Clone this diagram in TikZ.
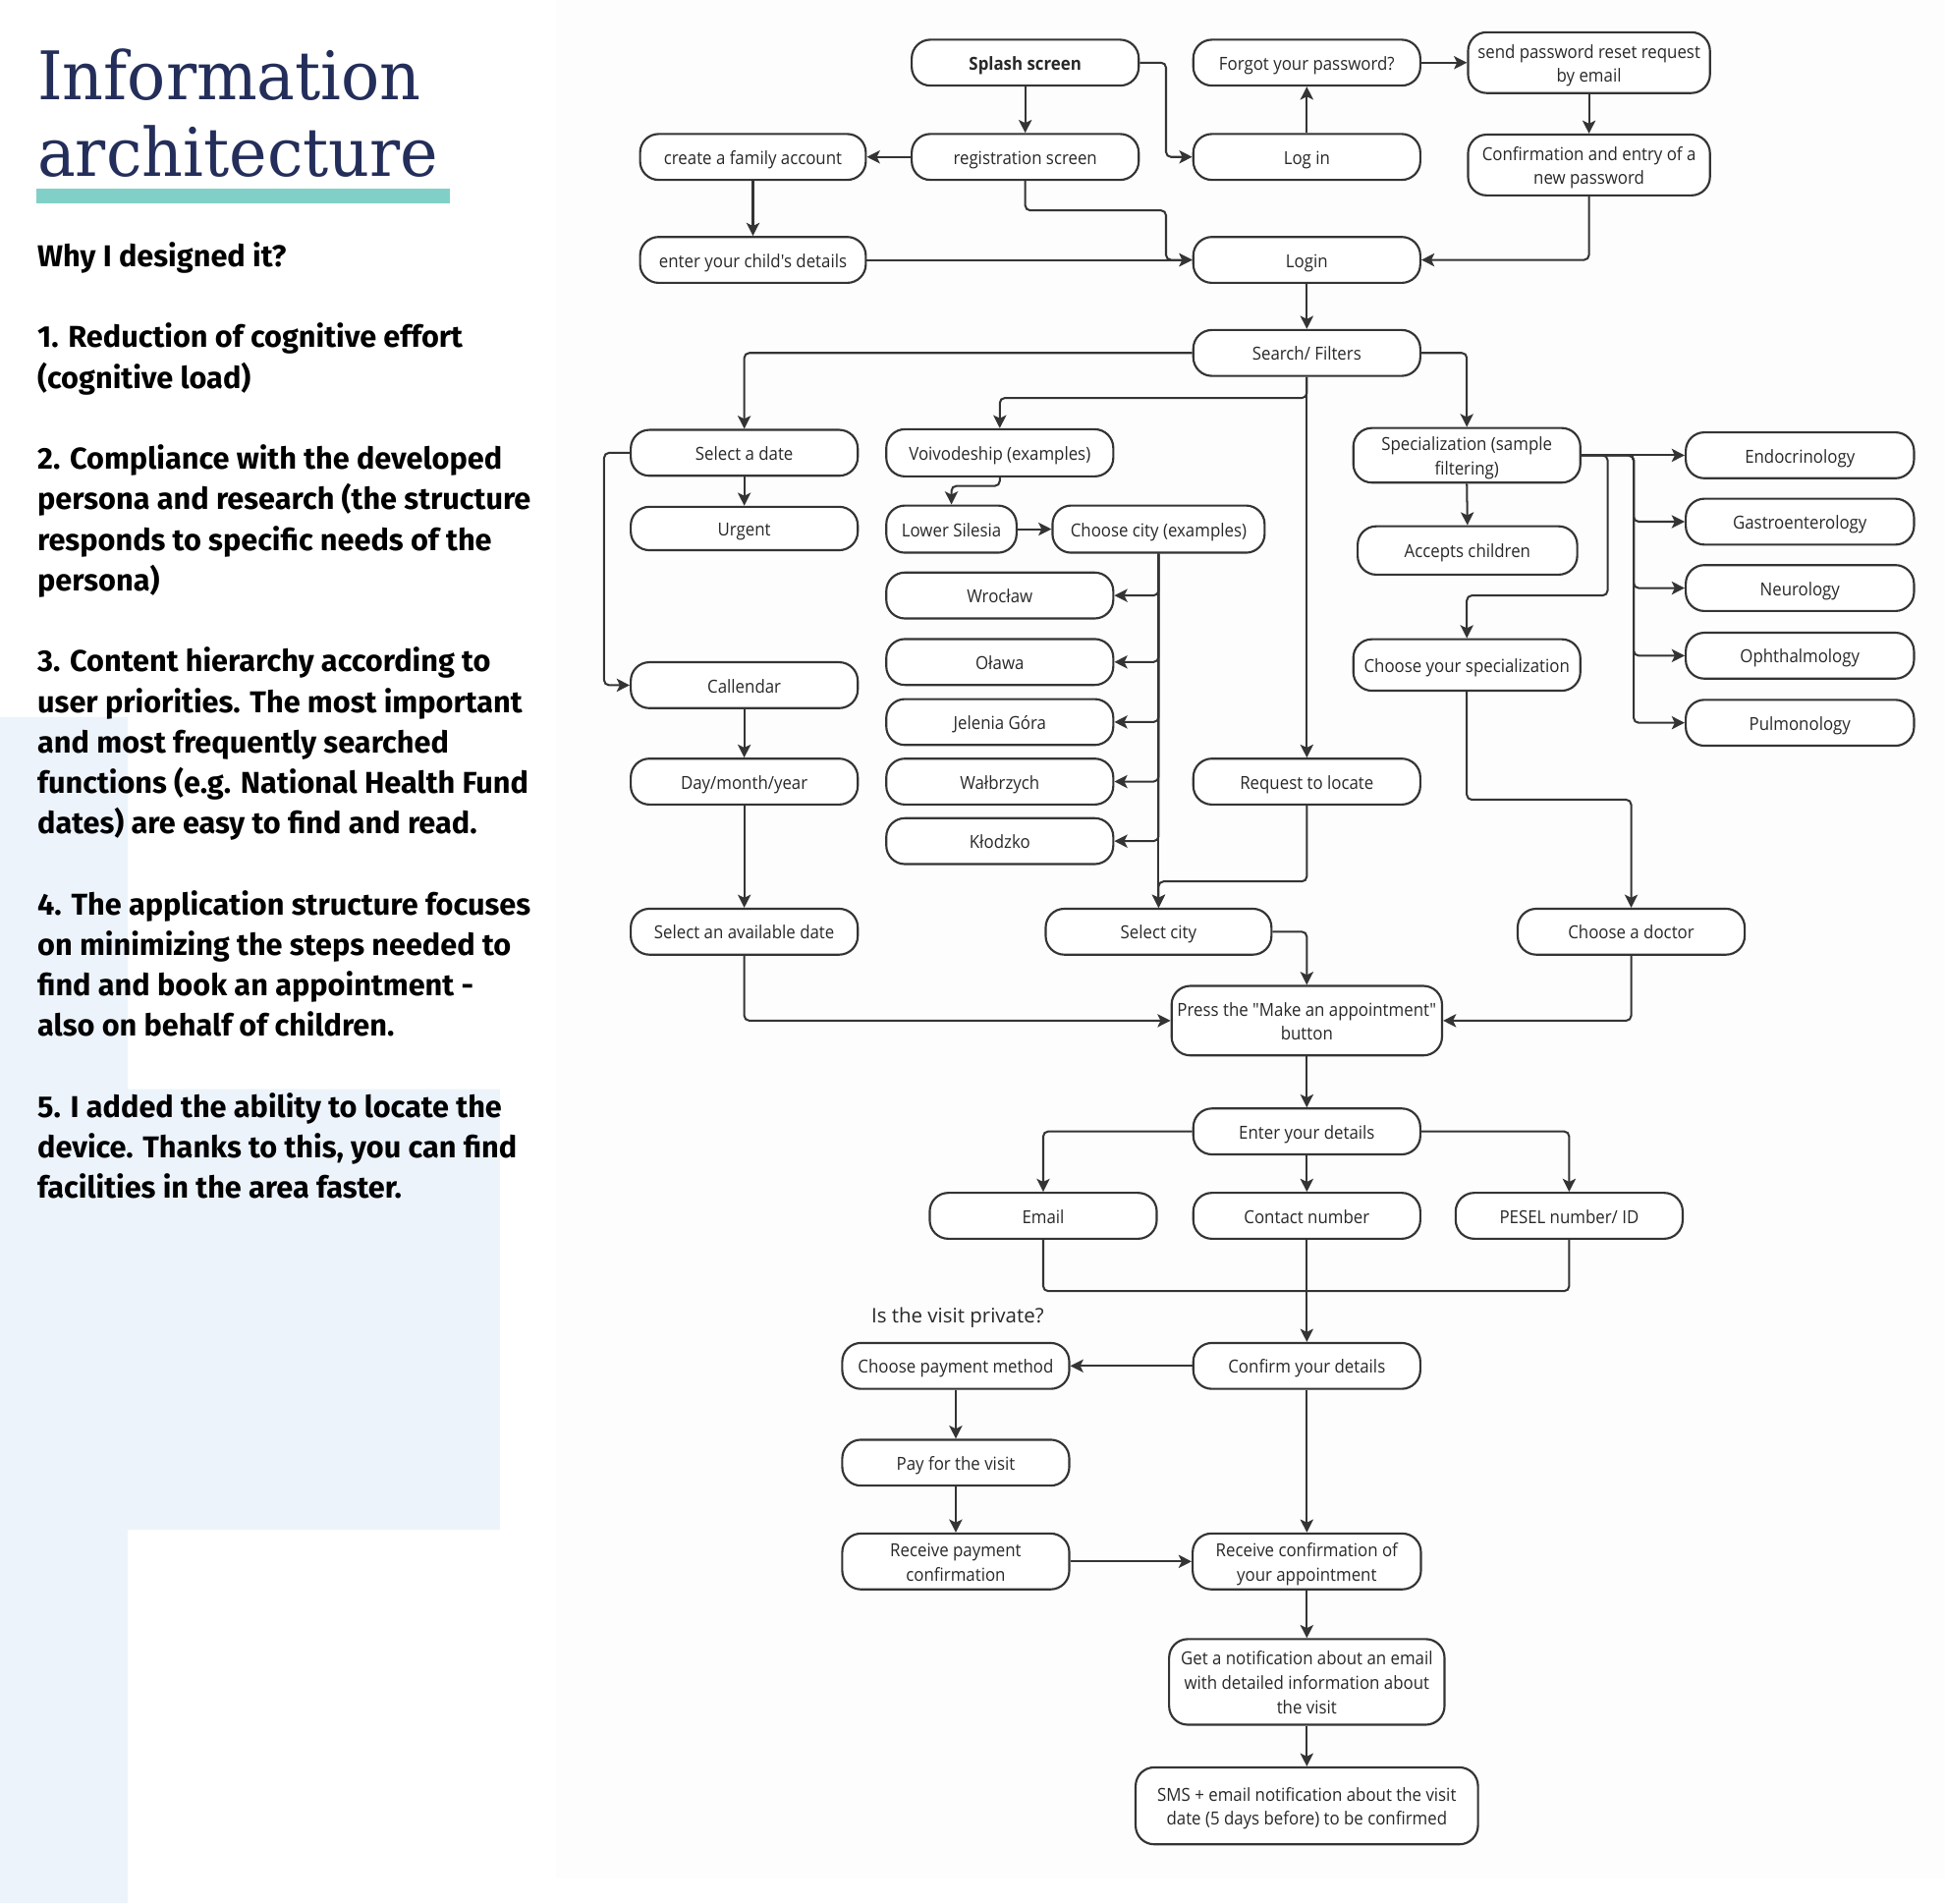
\documentclass[tikz,border=0pt]{standalone}
\usepackage{fontspec}
\usetikzlibrary{arrows.meta}
\newfontfamily\nodefont[FakeStretch=0.92]{Open Sans}
\newfontfamily\plainnodefont{Open Sans}
\newfontfamily\bodyfont{Fira Sans}
\newfontfamily\titlefont[FakeStretch=0.955]{DejaVu Serif}
\definecolor{ink}{RGB}{52,52,52}
\definecolor{inktext}{RGB}{40,40,40}
\definecolor{navy}{RGB}{36,46,90}
\definecolor{tealbar}{RGB}{128,208,199}
\definecolor{paleblue}{RGB}{236,243,251}
\definecolor{pagewhite}{RGB}{253,253,253}
\tikzset{
  box/.style={draw=ink, line width=1.7pt, rounded corners=15pt, fill=white, text=inktext,
    inner sep=0pt, align=center, font=\nodefont\fontsize{14.5}{19.5}\selectfont,
    minimum height=37pt, minimum width=183pt,
    execute at begin node={\rule[-3.6pt]{0pt}{19.2pt}}},
  twolines/.style={text height=35.1pt, text depth=3.6pt},
  threelines/.style={text height=54.6pt, text depth=3.6pt},
  arr/.style={draw=ink, line width=1.6pt, rounded corners=4pt,
    -{Stealth[length=10.5pt,width=10.5pt,inset=2.5pt]}},
  ln/.style={draw=ink, line width=1.6pt, rounded corners=4pt},
  bodyline/.style={anchor=base west, inner sep=0pt, text=black,
    font=\bodyfont\bfseries\fontsize{24.3}{32}\selectfont},
  titleline/.style={anchor=base west, inner sep=0pt, text=navy,
    font=\titlefont\fontsize{54}{62}\selectfont}
}
\begin{document}
\begin{tikzpicture}[x=1pt,y=-1pt]
\useasboundingbox (0,0) rectangle (1568,1534);
\fill[white] (0,0) rectangle (1568,1534);
\fill[pagewhite] (448,0) rectangle (1568,1514);
\fill[paleblue] (0,578) -- (103,578) -- (103,878) -- (403,878) -- (403,1233)
  -- (103,1233) -- (103,1534) -- (0,1534) -- cycle;

% title
\node[titleline] (ti1) at (30,80) {Information};
\node[titleline] (ti2) at (30,142) {architecture};
\fill[tealbar] (29,152) rectangle (363,164);

% body text
\node[bodyline] (b0) at (30,215.0) {Why I designed it?};
\node[bodyline] (b2) at (30,280.3) {1. Reduction of cognitive effort};
\node[bodyline] (b3) at (30,313.0) {(cognitive load)};
\node[bodyline] (b5) at (30,378.3) {2. Compliance with the developed};
\node[bodyline] (b6) at (30,410.9) {persona and research (the structure};
\node[bodyline] (b7) at (30,443.6) {responds to specific needs of the};
\node[bodyline] (b8) at (30,476.2) {persona)};
\node[bodyline] (b10) at (30,541.5) {3. Content hierarchy according to};
\node[bodyline] (b11) at (30,574.2) {user priorities. The most important};
\node[bodyline] (b12) at (30,606.8) {and most frequently searched};
\node[bodyline] (b13) at (30,639.5) {functions (e.g. National Health Fund};
\node[bodyline] (b14) at (30,672.1) {dates) are easy to find and read.};
\node[bodyline] (b16) at (30,737.4) {4. The application structure focuses};
\node[bodyline] (b17) at (30,770.1) {on minimizing the steps needed to};
\node[bodyline] (b18) at (30,802.7) {find and book an appointment -};
\node[bodyline] (b19) at (30,835.4) {also on behalf of children.};
\node[bodyline] (b21) at (30,900.7) {5. I added the ability to locate the};
\node[bodyline] (b22) at (30,933.3) {device. Thanks to this, you can find};
\node[bodyline] (b23) at (30,966.0) {facilities in the area faster.};

% ---- nodes ----
\node[box] (splash) at (826.5,50.5) {\bfseries Splash screen};
\node[box] (forgot) at (1053.5,50.5) {Forgot your password?};
\node[box, twolines, minimum width=195pt, minimum height=49pt] (sendreq) at (1281,50.5) {send password reset request\\by email};
\node[box, minimum width=182pt] (family) at (607,126.5) {create a family account};
\node[box] (reg) at (826.5,126.5) {registration screen};
\node[box] (login1) at (1053.5,126.5) {Log in};
\node[box, twolines, minimum width=195pt, minimum height=49pt] (confirmpw) at (1281,133) {Confirmation and entry of a\\new password};
\node[box, minimum width=182pt] (child) at (607,209.5) {enter your child's details};
\node[box] (login) at (1053.5,209.5) {Login};
\node[box] (search) at (1053.5,284.5) {Search/ Filters};

\node[box] (date) at (600,365) {Select a date};
\node[box, minimum height=38pt] (voiv) at (806,365) {Voivodeship (examples)};
\node[box, twolines, minimum height=44pt] (spec) at (1182.5,367) {Specialization (sample\\filtering)};
\node[box, minimum width=184pt] (endo) at (1451,367) {Endocrinology};
\node[box, minimum width=184pt] (gastro) at (1451,420.5) {Gastroenterology};
\node[box, minimum width=184pt] (neuro) at (1451,474) {Neurology};
\node[box, minimum width=184pt] (oph) at (1451,528.5) {Ophthalmology};
\node[box, minimum width=184pt] (pulmo) at (1451,582.6) {Pulmonology};
\node[box, minimum height=35pt] (urgent) at (600,426) {Urgent};
\node[box, minimum width=105pt, minimum height=38pt] (lowsil) at (767,426.5) {Lower Silesia};
\node[box, minimum width=171pt, minimum height=38pt] (city) at (934,426.5) {Choose city (examples)};
\node[box, minimum width=177pt, minimum height=39pt] (accepts) at (1183,443.7) {Accepts children};
\node[box] (wroclaw) at (806,480) {Wrocław};
\node[box] (olawa) at (806,533.6) {Oława};
\node[box] (jelenia) at (806,582) {Jelenia Góra};
\node[box] (walb) at (806,630) {Wałbrzych};
\node[box] (klodzko) at (806,678) {Kłodzko};
\node[box] (calendar) at (600,552.3) {Callendar};
\node[box, minimum height=41.5pt] (choosespec) at (1182.5,536) {Choose your specialization};
\node[box] (daymonth) at (600,630) {Day/month/year};
\node[box] (locate) at (1053.5,630) {Request to locate};
\node[box] (availdate) at (600,751) {Select an available date};
\node[box, minimum width=182pt] (selcity) at (934,751) {Select city};
\node[box] (doctor) at (1315,751) {Choose a doctor};
\node[box, twolines, minimum width=218pt, minimum height=56pt] (press) at (1053.5,822.7) {Press the "Make an appointment"\\button};
\node[box] (enter) at (1053.5,912) {Enter your details};
\node[box] (email) at (841,980) {Email};
\node[box] (contact) at (1053.5,980) {Contact number};
\node[box] (pesel) at (1265,980) {PESEL number/ ID};
\node[anchor=base, inner sep=0pt, text=inktext, font=\plainnodefont\fontsize{16.2}{20}\selectfont] (private) at (772,1066) {Is the visit private?};
\node[box] (confirm) at (1053.5,1101) {Confirm your details};
\node[box] (payment) at (770.5,1101) {Choose payment method};
\node[box] (pay) at (770.5,1179) {Pay for the visit};
\node[box, twolines, minimum height=45pt] (recpay) at (770.5,1258.6) {Receive payment\\confirmation};
\node[box, twolines, minimum width=184pt, minimum height=45pt] (recconf) at (1053.5,1258.6) {Receive confirmation of\\your appointment};
\node[box, threelines, minimum width=222pt, minimum height=69pt] (notif) at (1053.5,1355.7) {Get a notification about an email\\with detailed information about\\the visit};
\node[box, twolines, minimum width=276pt, minimum height=62pt] (sms) at (1053.5,1455.6) {SMS + email notification about the visit\\date (5 days before) to be confirmed};

% ---- connectors ----
\draw[arr] (splash.south) -- (reg.north);
\draw[arr] (splash.east) -- (940,50.5) |- (login1.west);
\draw[arr] (reg.west) -- (family.east);
\draw[arr] (reg.south) |- (940,169.6) |- (login.west);
\draw[arr] (family.south) -- (child.north);
\draw[arr] (child.east) -- (login.west);
\draw[arr] (login1.north) -- (forgot.south);
\draw[arr] (forgot.east) -- (sendreq.west);
\draw[arr] (sendreq.south) -- (confirmpw.north);
\draw[arr] (confirmpw.south) |- (login.east);
\draw[arr] (login.south) -- (search.north);

\draw[arr] (search.west) -| (date.north);
\draw[arr] (search.south) -- (1053.5,320.8) -| (voiv.north);
\draw[arr] (search.south) -- (locate.north);
\draw[arr] (search.east) -| (spec.north);

\draw[arr] (date.south) -- (urgent.north);
\draw[arr] (date.west) -- (487,365) |- (calendar.west);
\draw[arr] (calendar.south) -- (daymonth.north);
\draw[arr] (daymonth.south) -- (availdate.north);
\draw[arr] (availdate.south) |- (press.west);

\draw[arr] (voiv.south) -- (806,391.7) -| (lowsil.north);
\draw[arr] (lowsil.east) -- (city.west);
\draw[arr] (city.south) |- (wroclaw.east);
\draw[arr] (city.south) |- (olawa.east);
\draw[arr] (city.south) |- (jelenia.east);
\draw[arr] (city.south) |- (walb.east);
\draw[arr] (city.south) |- (klodzko.east);
\draw[arr] (city.south) -- (selcity.north);
\draw[arr] (locate.south) -- (1053.5,710.5) -| (selcity.north);
\draw[arr] (selcity.east) -| (press.north);

\draw[arr] (spec.east) -- (endo.west);
\draw[arr] (spec.east) -- (1317,367) |- (gastro.west);
\draw[arr] (spec.east) -- (1317,367) |- (neuro.west);
\draw[arr] (spec.east) -- (1317,367) |- (oph.west);
\draw[arr] (spec.east) -- (1317,367) |- (pulmo.west);
\draw[arr] (spec.east) -- (1296,367) -- (1296,480) -| (choosespec.north);
\draw[arr] (spec.south) -- (accepts.north);
\draw[arr] (choosespec.south) -- (1182.5,644.6) -| (doctor.north);
\draw[arr] (doctor.south) |- (press.east);

\draw[arr] (press.south) -- (enter.north);
\draw[arr] (enter.west) -| (email.north);
\draw[arr] (enter.south) -- (contact.north);
\draw[arr] (enter.east) -| (pesel.north);
\draw[ln] (email.south) |- (1053.5,1040.7);
\draw[ln] (pesel.south) |- (1053.5,1040.7);
\draw[arr] (contact.south) -- (confirm.north);

\draw[arr] (confirm.west) -- (payment.east);
\draw[arr] (payment.south) -- (pay.north);
\draw[arr] (pay.south) -- (recpay.north);
\draw[arr] (confirm.south) -- (recconf.north);
\draw[arr] (recpay.east) -- (recconf.west);
\draw[arr] (recconf.south) -- (notif.north);
\draw[arr] (notif.south) -- (sms.north);
\end{tikzpicture}
\end{document}
